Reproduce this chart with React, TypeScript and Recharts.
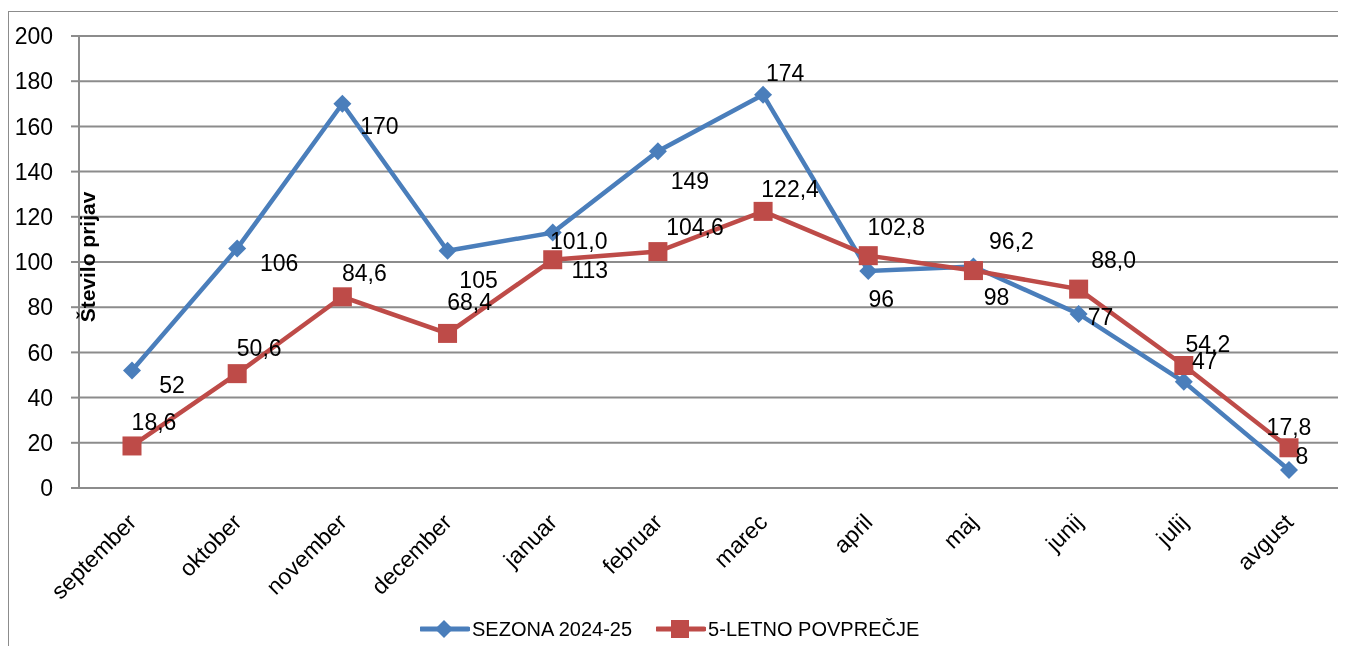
import React from "react";
import { LineChart, Line, XAxis, YAxis, CartesianGrid, Legend, LabelList } from "recharts";

const months = ["september", "oktober", "november", "december", "januar", "februar", "marec", "april", "maj", "junij", "julij", "avgust"];
const season = [52, 106, 170, 105, 113, 149, 174, 96, 98, 77, 47, 8];
const average = [18.6, 50.6, 84.6, 68.4, 101.0, 104.6, 122.4, 102.8, 96.2, 88.0, 54.2, 17.8];
const yTicks = [0, 20, 40, 60, 80, 100, 120, 140, 160, 180, 200];

const SEASON_NAME = "SEZONA 2024-25";
const AVG_NAME = "5-LETNO POVPREČJE";

const data = months.map((m, i) => ({ month: m, season: season[i], average: average[i] }));

// label placement (styling only): offset of label centre from the point
const seasonLabelOffset: [number, number][] = [
  [40, 15], [42, 15], [37, 22], [31, 29], [37, 37], [32, 30], [22, -22], [13, 28], [23, 30], [22, 3], [21, -21], [13, -14],
];
const avgLabelOffset: [number, number][] = [
  [22, -24], [22, -26], [22, -24], [22, -31], [26, -19], [37, -25], [27, -22], [28, -29], [38, -30], [35, -29], [24, -22], [0, -21],
];

const BLUE = "#4A7EBB";
const RED = "#BE4B48";
const GRID = "#8C8C8C";
const FONT = "'Liberation Sans', Arial, sans-serif";

const Diamond = (props: any) => {
  const { cx, cy } = props;
  if (cx == null || cy == null) return null;
  const r = 9;
  return <path d={`M${cx},${cy - r}L${cx + r},${cy}L${cx},${cy + r}L${cx - r},${cy}Z`} fill={BLUE} />;
};

const Square = (props: any) => {
  const { cx, cy } = props;
  if (cx == null || cy == null) return null;
  const s = 19;
  return <rect x={cx - s / 2} y={cy - s / 2} width={s} height={s} fill={RED} />;
};

const makeLabel = (offsets: [number, number][], fmt: (v: number) => string) => (props: any) => {
  const { x, y, value, index } = props;
  const [dx, dy] = offsets[index] || [0, 0];
  return (
    <text x={x + dx} y={y + dy} textAnchor="middle" dominantBaseline="central" fontSize={23} fontFamily={FONT} fill="#000">
      {fmt(value)}
    </text>
  );
};

const XTick = (props: any) => {
  const { x, y, payload } = props;
  return (
    <g transform={`translate(${x},${y + 30})`}>
      <text x={0} y={0} dy="0.35em" textAnchor="end" transform="rotate(-45)" fontSize={23} fontFamily={FONT} fill="#000">
        {payload.value}
      </text>
    </g>
  );
};

const LegendContent = () => (
  <div style={{ height: 26, display: "flex", alignItems: "center", paddingLeft: 411, fontFamily: FONT, fontSize: 20, color: "#000" }}>
    <svg width={50} height={22} style={{ display: "block" }}>
      <line x1={1} y1={11} x2={48} y2={11} stroke={BLUE} strokeWidth={5} strokeLinecap="round" />
      <path d="M24,2L33,11L24,20L15,11Z" fill={BLUE} />
    </svg>
    <span style={{ marginLeft: 2, whiteSpace: "nowrap" }}>{SEASON_NAME}</span>
    <svg width={50} height={22} style={{ display: "block", marginLeft: 24 }}>
      <line x1={1} y1={11} x2={48} y2={11} stroke={RED} strokeWidth={5} strokeLinecap="round" />
      <rect x={15} y={2} width={18} height={18} fill={RED} />
    </svg>
    <span style={{ marginLeft: 2, whiteSpace: "nowrap" }}>{AVG_NAME}</span>
  </div>
);

const YTitle = (props: any) => {
  const vb = props.viewBox || {};
  const x = (vb.x || 0) + (vb.width || 0) + 8;
  const y = (vb.y || 0) + (vb.height || 0) / 2 - 5;
  return (
    <text x={x} y={y} transform={`rotate(-90, ${x}, ${y})`} textAnchor="middle" dominantBaseline="central" fontSize={21} fontWeight="bold" fontFamily={FONT} fill="#000">
      Število prijav
    </text>
  );
};

export default function App() {
  return (
    <div
      style={{
        position: "fixed",
        left: 8,
        top: 11,
        width: 1330,
        height: 635,
        boxSizing: "border-box",
        borderTop: `1px solid ${GRID}`,
        borderLeft: `1px solid ${GRID}`,
        overflow: "visible",
      }}
    >
      <LineChart width={1329} height={634} data={data} margin={{ top: 24, right: 0, bottom: 4, left: 0 }}>
        <CartesianGrid vertical={false} stroke={GRID} strokeWidth={2} />
        <XAxis
          dataKey="month"
          padding={{ left: 53, right: 49 }}
          height={128}
          tickSize={0}
          tickMargin={0}
          tickLine={false}
          axisLine={{ stroke: GRID, strokeWidth: 2 }}
          tick={<XTick />}
          interval={0}
        />
        <YAxis
          domain={[0, 200]}
          ticks={yTicks}
          width={70}
          tickSize={8}
          tickMargin={18}
          tickLine={{ stroke: GRID, strokeWidth: 2 }}
          axisLine={{ stroke: GRID, strokeWidth: 2 }}
          tick={{ fontSize: 23, fontFamily: FONT, fill: "#000" }}
          label={<YTitle />}
        />
        <Legend verticalAlign="bottom" content={<LegendContent />} wrapperStyle={{ left: 0, width: 1329 }} />
        <Line
          type="linear"
          dataKey="season"
          name={SEASON_NAME}
          stroke={BLUE}
          strokeWidth={4.5}
          dot={<Diamond />}
          activeDot={false}
          isAnimationActive={false}
        >
          <LabelList dataKey="season" content={makeLabel(seasonLabelOffset, (v) => String(v))} />
        </Line>
        <Line
          type="linear"
          dataKey="average"
          name={AVG_NAME}
          stroke={RED}
          strokeWidth={4.5}
          dot={<Square />}
          activeDot={false}
          isAnimationActive={false}
        >
          <LabelList dataKey="average" content={makeLabel(avgLabelOffset, (v) => v.toFixed(1).replace(".", ","))} />
        </Line>
      </LineChart>
    </div>
  );
}
